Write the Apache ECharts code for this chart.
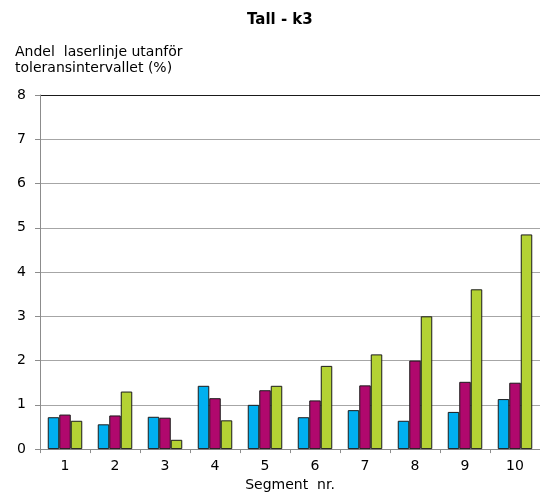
<!DOCTYPE html>
<html>
<head>
<meta charset="utf-8">
<script src="https://cdn.jsdelivr.net/npm/echarts@6/dist/echarts.min.js"></script>
<style>
  html, body { margin: 0; padding: 0; background: #ffffff; }
  #chart { width: 540px; height: 497px; }
</style>
</head>
<body>
<div id="chart"></div>
<script>
// Segment numbers along the x axis
const segments = ['1', '2', '3', '4', '5', '6', '7', '8', '9', '10'];

// Share of laser line outside the tolerance interval (%), three series per segment
const seriesBlue = [0.72, 0.56, 0.73, 1.43, 1.00, 0.72, 0.88, 0.64, 0.84, 1.13];
const seriesMagenta = [0.78, 0.76, 0.71, 1.15, 1.33, 1.10, 1.44, 2.00, 1.52, 1.50];
const seriesGreen = [0.64, 1.30, 0.21, 0.65, 1.43, 1.88, 2.14, 3.00, 3.61, 4.85];

const yTicks = [0, 1, 2, 3, 4, 5, 6, 7, 8];

const FONT = 'DejaVu Sans';
const barColors = ['#00B0F0', '#B0086D', '#B4D234'];

// Grid line colours: grey everywhere, dark top line at the maximum
const gridColors = yTicks.map((v, i) => (i === yTicks.length - 1 ? '#1a1a1a' : '#a6a6a6'));

const chart = echarts.init(document.getElementById('chart'), null, { renderer: 'canvas' });

function barSeries(data, color) {
  return {
    type: 'bar',
    data: data,
    barWidth: 11.5,
    barGap: '0%',
    itemStyle: { color: color, borderColor: '#1a1a1a', borderWidth: 1 },
    animation: false
  };
}

chart.setOption({
  backgroundColor: '#ffffff',
  animation: false,
  title: [
    {
      text: 'Tall - k3',
      left: 242,
      top: 8,
      textStyle: { fontFamily: FONT, fontSize: 15, fontWeight: 'bold', color: '#000' }
    },
    {
      text: 'Andel  laserlinje utanför\ntoleransintervallet (%)',
      left: 10,
      top: 39,
      textStyle: { fontFamily: FONT, fontSize: 14, fontWeight: 'normal', color: '#000', lineHeight: 16.5 }
    }
  ],
  grid: { left: 40, right: -2, top: 95, bottom: 41, containLabel: false },
  xAxis: {
    type: 'category',
    data: segments,
    name: 'Segment  nr.',
    nameLocation: 'middle',
    nameGap: 22,
    nameTextStyle: { fontFamily: FONT, fontSize: 14, color: '#000' },
    axisLine: { lineStyle: { color: '#8c8c8c', width: 1 } },
    axisTick: { show: true, length: 4, alignWithLabel: false, lineStyle: { color: '#8c8c8c' } },
    axisLabel: { fontFamily: FONT, fontSize: 14, color: '#000', margin: 10 },
    splitLine: { show: false }
  },
  yAxis: {
    type: 'value',
    min: yTicks[0],
    max: yTicks[yTicks.length - 1],
    interval: 1,
    axisLine: { show: true, lineStyle: { color: '#8c8c8c', width: 1 } },
    axisTick: { show: true, length: 5, lineStyle: { color: '#8c8c8c' } },
    axisLabel: { fontFamily: FONT, fontSize: 14, color: '#000', margin: 14 },
    splitLine: { show: true, lineStyle: { color: gridColors, width: 1 } }
  },
  series: [
    barSeries(seriesBlue, barColors[0]),
    barSeries(seriesMagenta, barColors[1]),
    barSeries(seriesGreen, barColors[2])
  ]
});
</script>
</body>
</html>
